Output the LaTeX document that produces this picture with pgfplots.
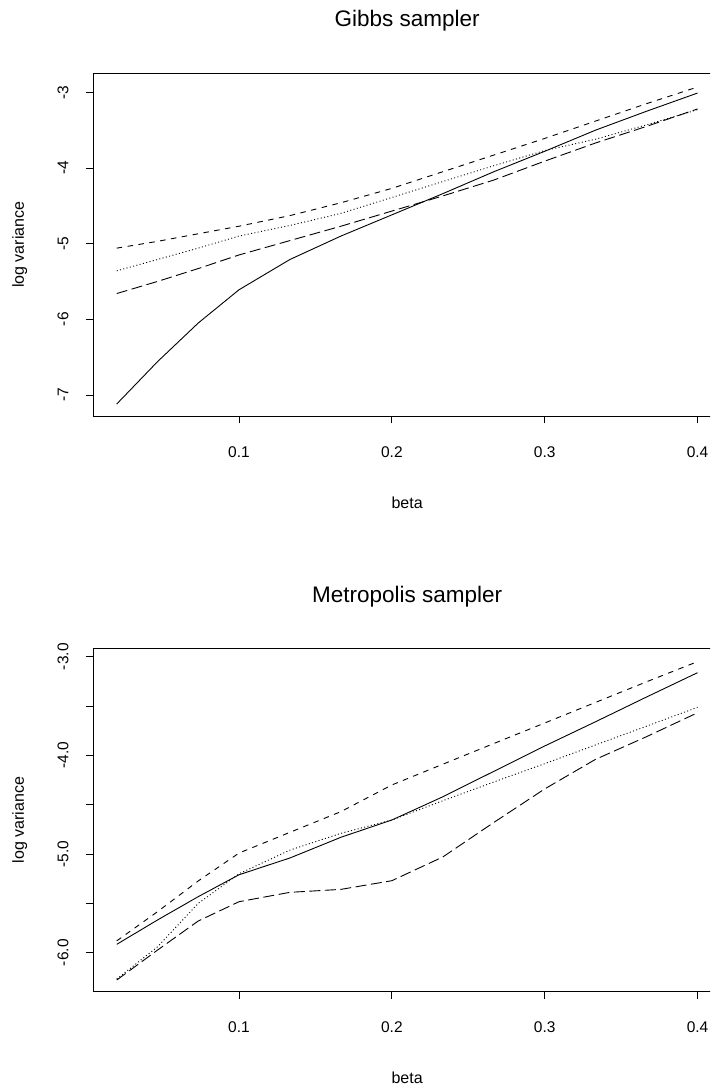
\documentclass[border=0pt]{standalone}
\usepackage{fontspec}
\setmainfont{Liberation Sans}
\usepackage{pgfplots}
\usepackage{pgfplotstable}
\pgfplotsset{compat=1.18}

\newcommand\ticksize{\fontsize{15.5}{18}\selectfont}
\newcommand\labsize{\fontsize{16}{19}\selectfont}
\newcommand\titsize{\fontsize{22.5}{26}\selectfont}

\pgfplotstableread{
b       s       d       o       l
0.02    -7.12   -5.06   -5.36   -5.66
0.0467  -6.56   -4.97   -5.21   -5.50
0.0733  -6.05   -4.87   -5.06   -5.33
0.1     -5.61   -4.77   -4.90   -5.15
0.1333  -5.21   -4.63   -4.76   -4.96
0.1667  -4.90   -4.46   -4.60   -4.77
0.2     -4.62   -4.27   -4.39   -4.57
0.2333  -4.34   -4.05   -4.18   -4.37
0.2667  -4.05   -3.83   -3.97   -4.16
0.3     -3.78   -3.61   -3.77   -3.91
0.3333  -3.50   -3.38   -3.62   -3.67
0.3667  -3.25   -3.15   -3.43   -3.45
0.4     -3.01   -2.93   -3.23   -3.22
}\gibbs

\pgfplotstableread{
b       s       d       o       l
0.02    -5.915  -5.88   -6.267  -6.277
0.0467  -5.668  -5.584  -5.94   -5.973
0.0733  -5.432  -5.273  -5.50   -5.679
0.1     -5.21   -4.99   -5.20   -5.483
0.1333  -5.04   -4.78   -4.96   -5.388
0.1667  -4.83   -4.57   -4.79   -5.358
0.2     -4.655  -4.30   -4.655  -5.27
0.2333  -4.42   -4.09   -4.46   -5.03
0.2667  -4.162  -3.88   -4.27   -4.68
0.3     -3.905  -3.672  -4.084  -4.34
0.3333  -3.659  -3.463  -3.894  -4.04
0.3667  -3.408  -3.254  -3.704  -3.81
0.4     -3.162  -3.05   -3.513  -3.568
}\metro

\pgfplotsset{
  common/.style={
    anchor=south west,
    scale only axis,
    width=627.3pt,
    xmin=0.0048, xmax=0.4152,
    xtick={0.1,0.2,0.3,0.4},
    xticklabels={0.1,0.2,0.3,0.4},
    tick align=outside,
    tick pos=left,
    major tick length=7pt,
    every tick/.style={black, line width=0.8pt},
    axis line style={line width=0.8pt},
    every axis title/.style={at={(axis description cs:0.5,1)}, anchor=base, yshift=46pt, inner sep=0pt, font=\titsize},
    every axis x label/.style={at={(axis description cs:0.5,0)}, anchor=base, yshift=-91.8pt, inner sep=0pt, font=\labsize},
    every axis y label/.style={at={(axis description cs:0,0.5)}, xshift=-69.5pt, rotate=90, anchor=base, inner sep=0pt, font=\labsize},
    xticklabel style={font=\ticksize, inner sep=0pt, anchor=north, yshift=-23pt},
    yticklabel style={font=\ticksize, inner sep=0pt, xshift=-18.2pt, rotate=90, anchor=base},
    xlabel={beta},
    ylabel={log variance},
    every axis plot/.append style={black, line width=0.9pt, line join=round},
  }
}

\begin{document}
\begin{tikzpicture}
\useasboundingbox (0,0) rectangle (710pt,1085pt);
\clip (0,0) rectangle (710pt,1085pt);

\begin{axis}[common, at={(93.5pt,668.5pt)}, height=343.5pt,
  ymin=-7.285, ymax=-2.745,
  ytick={-7,-6,-5,-4,-3}, yticklabels={-7,-6,-5,-4,-3},
  title={Gibbs sampler}]
\addplot[solid] table[x=b,y=s]{\gibbs};
\addplot[dash pattern=on 5.5pt off 5.5pt] table[x=b,y=d]{\gibbs};
\addplot[dash pattern=on 1pt off 2.4pt] table[x=b,y=o]{\gibbs};
\addplot[dash pattern=on 11pt off 4.5pt] table[x=b,y=l]{\gibbs};
\end{axis}

\begin{axis}[common, at={(93.5pt,93.3pt)}, height=343.4pt,
  ymin=-6.395, ymax=-2.915,
  ytick={-6,-5.5,-5,-4.5,-4,-3.5,-3}, yticklabels={-6.0,,-5.0,,-4.0,,-3.0},
  title={Metropolis sampler}]
\addplot[solid] table[x=b,y=s]{\metro};
\addplot[dash pattern=on 5.5pt off 5.5pt] table[x=b,y=d]{\metro};
\addplot[dash pattern=on 1pt off 2.4pt] table[x=b,y=o]{\metro};
\addplot[dash pattern=on 11pt off 4.5pt] table[x=b,y=l]{\metro};
\end{axis}
\end{tikzpicture}
\end{document}
